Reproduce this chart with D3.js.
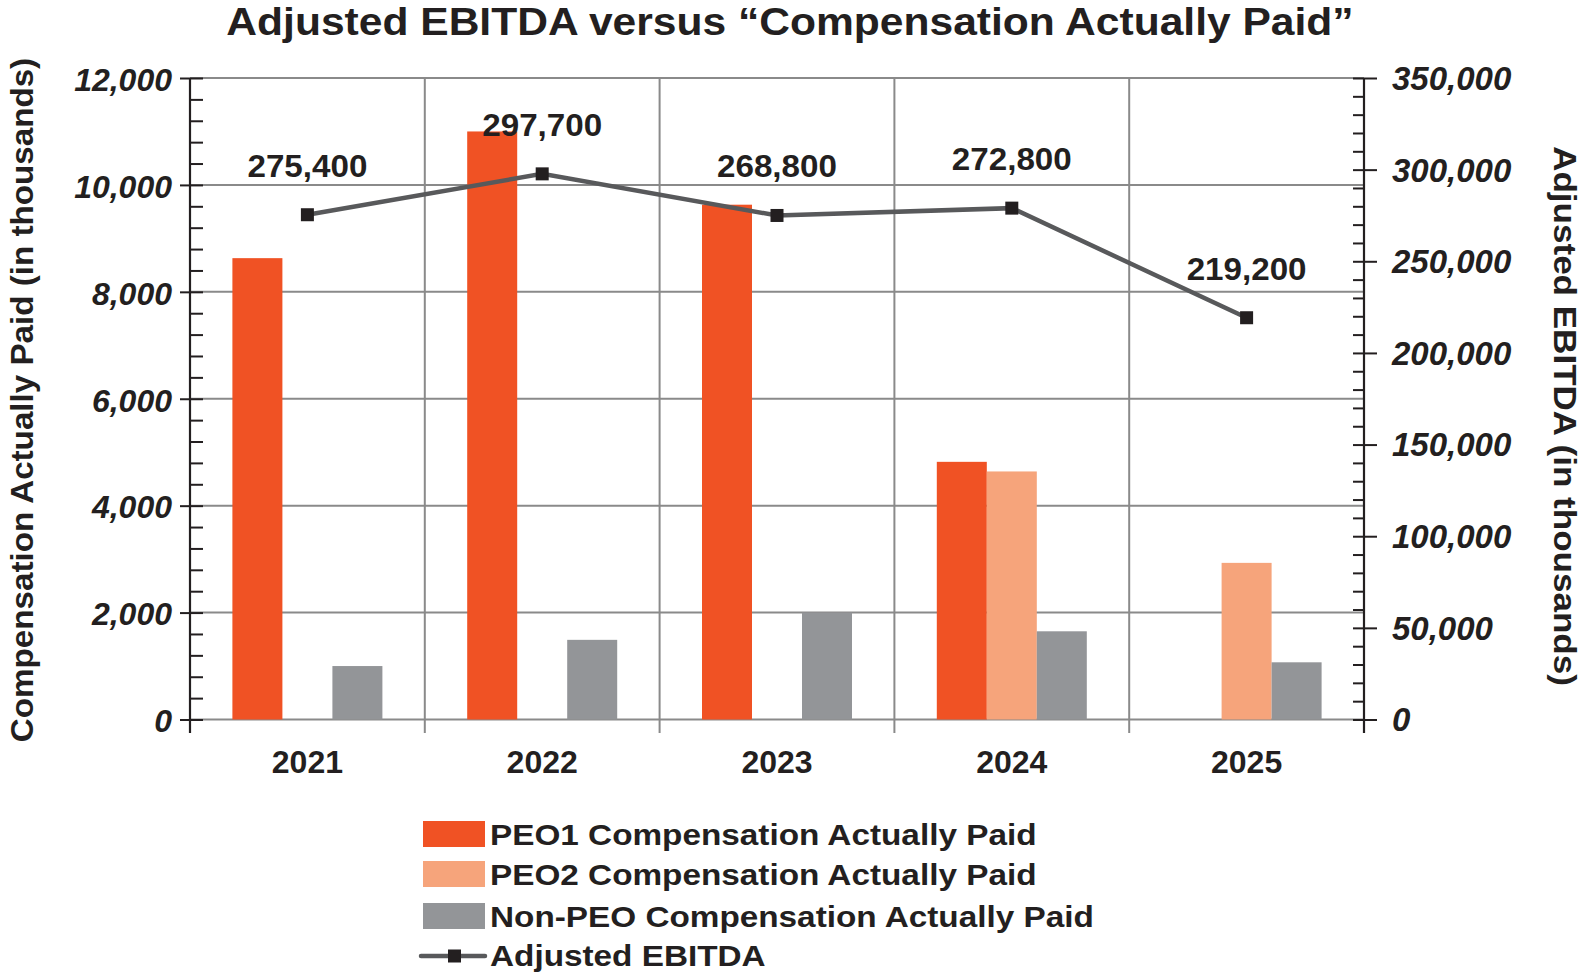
<!DOCTYPE html>
<html>
<head>
<meta charset="utf-8">
<script src="https://cdn.jsdelivr.net/npm/d3@7"></script>
<style>
  body { margin: 0; background: #fff; }
  text { font-family: 'Liberation Sans', Arial, Helvetica, sans-serif; fill: #231f20; font-weight: bold; }
</style>
</head>
<body>
<div id="container"></div>
<script>
/* DATA */
var years = ['2021', '2022', '2023', '2024', '2025']
var peo1Cap = [8630, 11000, 9630, 4820, null]      // PEO1 Compensation Actually Paid ($K)
var peo2Cap = [null, null, null, 4640, 2930]       // PEO2 Compensation Actually Paid ($K)
var nonPeoCap = [1000, 1490, 2000, 1650, 1070]     // Non-PEO Compensation Actually Paid ($K)
var ebitdaValues = [275400, 297700, 275000, 279000, 219200]  // where the markers sit
var ebitdaLabels = ['275,400', '297,700', '268,800', '272,800', '219,200']
var leftTicks = [0, 2000, 4000, 6000, 8000, 10000, 12000]
var rightTicks = [0, 50000, 100000, 150000, 200000, 250000, 300000, 350000]

var seriesNames = ['PEO1 Compensation Actually Paid', 'PEO2 Compensation Actually Paid', 'Non-PEO Compensation Actually Paid']
var colors = ['#f05224', '#f6a47b', '#939598']
var lineName = 'Adjusted EBITDA'

/* SET UP */
var width = 1584, height = 976
var plotL = 190, plotR = 1364, plotT = 78, plotB = 719.5

var svg = d3.select('#container').append('svg')
    .attr('width', width)
    .attr('height', height)

// stretch text horizontally, the original font is wider than Liberation
function widen(sel, k) {
    sel.each(function() {
        var w = this.getComputedTextLength()
        d3.select(this).attr('textLength', w * k).attr('lengthAdjust', 'spacingAndGlyphs')
    })
}

var x = d3.scaleBand().domain(years).range([plotL, plotR])
var groupW = 150
var xs = d3.scaleBand().domain([0, 1, 2]).range([0, groupW])
var yL = d3.scaleLinear().domain([0, 12000]).range([plotB, plotT])
var yR = d3.scaleLinear().domain([0, 350000]).range([plotB, plotT])

/* GRID */
var grid = svg.append('g')
grid.selectAll('line.h').data(leftTicks).enter().append('line')
    .attr('x1', plotL).attr('x2', plotR)
    .attr('y1', function(d) { return yL(d) }).attr('y2', function(d) { return yL(d) })
    .attr('stroke', '#8a8a8a').attr('stroke-width', 2)
grid.selectAll('line.v').data(years.slice(1)).enter().append('line')
    .attr('x1', function(d) { return x(d) }).attr('x2', function(d) { return x(d) })
    .attr('y1', plotT).attr('y2', 733)
    .attr('stroke', '#8a8a8a').attr('stroke-width', 2)

/* BARS */
var series = [peo1Cap, peo2Cap, nonPeoCap]
series.forEach(function(vals, si) {
    svg.append('g').selectAll('rect')
        .data(years.map(function(y, i) { return { year: y, v: vals[i] } }).filter(function(d) { return d.v != null }))
        .enter().append('rect')
        .attr('x', function(d) { return x(d.year) + (x.bandwidth() - groupW) / 2 + xs(si) })
        .attr('width', xs.bandwidth())
        .attr('y', function(d) { return yL(d.v) })
        .attr('height', function(d) { return plotB - yL(d.v) })
        .attr('fill', colors[si])
})

/* AXES */
var axL = d3.axisLeft(yL).tickValues(d3.range(0, 12001, 400)).tickSizeInner(-13).tickSizeOuter(0).tickFormat('')
var gL = svg.append('g').attr('transform', 'translate(' + plotL + ',0)').call(axL)
gL.selectAll('.tick').filter(function(d) { return d % 2000 === 0 }).select('line')
    .attr('x1', -10).attr('x2', 13)
gL.selectAll('.tick line').attr('stroke', '#231f20').attr('stroke-width', 2)
gL.select('.domain').remove()
gL.append('line').attr('x1', 0).attr('x2', 0).attr('y1', plotT).attr('y2', 733).attr('stroke', '#231f20').attr('stroke-width', 2.2)
gL.selectAll('text.lab').data(leftTicks).enter().append('text')
    .attr('class', 'lab')
    .attr('x', -18).attr('y', function(d) { return yL(d) })
    .attr('dy', '0.4em')
    .attr('text-anchor', 'end')
    .style('font-size', '32px').style('font-style', 'italic')
    .text(d3.format(','))

var axR = d3.axisRight(yR).tickValues(d3.range(0, 350001, 10000)).tickSizeInner(-11).tickSizeOuter(0).tickFormat('')
var gR = svg.append('g').attr('transform', 'translate(' + plotR + ',0)').call(axR)
gR.selectAll('.tick').filter(function(d) { return d % 50000 === 0 }).select('line')
    .attr('x1', -11).attr('x2', 13)
gR.selectAll('.tick line').attr('stroke', '#231f20').attr('stroke-width', 2)
gR.select('.domain').remove()
gR.append('line').attr('x1', 0).attr('x2', 0).attr('y1', plotT).attr('y2', 733).attr('stroke', '#231f20').attr('stroke-width', 2.2)
gR.selectAll('text.lab').data(rightTicks).enter().append('text')
    .attr('class', 'lab')
    .attr('x', 28).attr('y', function(d) { return yR(d) })
    .attr('dy', '0.36em')
    .style('font-size', '33px').style('font-style', 'italic')
    .text(d3.format(','))

svg.append('g').selectAll('text').data(years).enter().append('text')
    .attr('x', function(d) { return x(d) + x.bandwidth() / 2 })
    .attr('y', 773)
    .attr('text-anchor', 'middle')
    .style('font-size', '32px')
    .text(function(d) { return d })

/* EBITDA LINE */
var pts = years.map(function(y, i) { return [x(y) + x.bandwidth() / 2, yR(ebitdaValues[i]), ebitdaLabels[i]] })
svg.append('path')
    .attr('d', d3.line()(pts.map(function(p) { return [p[0], p[1]] })))
    .attr('fill', 'none').attr('stroke', '#58595b').attr('stroke-width', 4.5)
svg.append('g').selectAll('rect').data(pts).enter().append('rect')
    .attr('x', function(d) { return d[0] - 6.5 }).attr('y', function(d) { return d[1] - 6.5 })
    .attr('width', 13).attr('height', 13).attr('fill', '#231f20')
svg.append('g').selectAll('text').data(pts).enter().append('text')
    .attr('x', function(d) { return d[0] }).attr('y', function(d) { return d[1] - 38 })
    .attr('text-anchor', 'middle')
    .style('font-size', '31px')
    .text(function(d) { return d[2] })
    .call(widen, 1.07)

/* TITLES */
svg.append('text')
    .attr('x', 790).attr('y', 35)
    .attr('text-anchor', 'middle')
    .style('font-size', '38px')
    .text('Adjusted EBITDA versus \u201cCompensation Actually Paid\u201d')
    .call(widen, 1.12)

svg.append('text')
    .attr('transform', 'translate(33,400) rotate(-90)')
    .attr('text-anchor', 'middle')
    .style('font-size', '31px')
    .text('Compensation Actually Paid (in thousands)')
    .call(widen, 1.07)

svg.append('text')
    .attr('transform', 'translate(1554,416) rotate(90)')
    .attr('text-anchor', 'middle')
    .style('font-size', '31px')
    .text('Adjusted EBITDA (in thousands)')
    .call(widen, 1.13)

/* LEGEND */
var lg = svg.append('g').attr('transform', 'translate(423,0)')
var rowBase = [845, 885, 927, 966]
seriesNames.forEach(function(name, i) {
    lg.append('rect').attr('x', 0).attr('y', rowBase[i] - 24).attr('width', 62).attr('height', 26).attr('fill', colors[i])
    lg.append('text').attr('x', 67).attr('y', rowBase[i]).style('font-size', '30px').text(name).call(widen, 1.11)
})
lg.append('line').attr('x1', -2).attr('x2', 62).attr('y1', rowBase[3] - 10).attr('y2', rowBase[3] - 10)
    .attr('stroke', '#58595b').attr('stroke-width', 4.5).attr('stroke-linecap', 'round')
lg.append('rect').attr('x', 25).attr('y', rowBase[3] - 16.5).attr('width', 13).attr('height', 13).attr('fill', '#231f20')
lg.append('text').attr('x', 67).attr('y', rowBase[3]).style('font-size', '30px').text(lineName).call(widen, 1.11)
</script>
</body>
</html>
